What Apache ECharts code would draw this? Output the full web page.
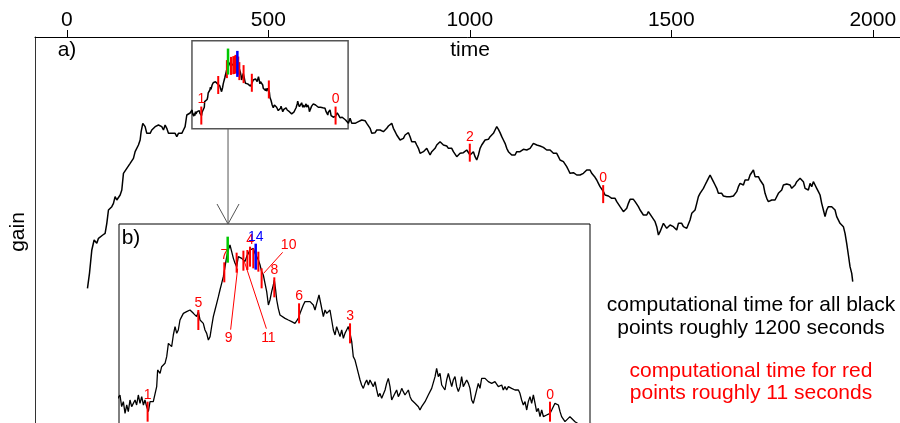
<!DOCTYPE html>
<html><head><meta charset="utf-8">
<script src="https://cdn.jsdelivr.net/npm/echarts@6/dist/echarts.min.js"></script>
<style>html,body{margin:0;padding:0;background:#fff}#c{width:900px;height:423px}</style>
</head><body><div id="c"></div>
<script>
// ---------- data (time, gain in arbitrary units) ----------
const timeTicks = [0, 500, 1000, 1500, 2000];

const earlySeg = [[51.2,1212],[56.2,1347],[59.5,1467],[62.0,1557],[67.7,1647],[74.4,1617],[78.5,1662],[82.6,1677],[89.2,1692],[95.0,1707],[99.2,1797],[103.3,1917],[107.4,1932],[111.6,1947],[115.7,1977],[119.8,2037],[124.0,2007],[128.1,2022],[132.3,2052],[136.4,2097],[140.5,2247],[144.7,2262],[148.8,2292],[152.9,2307],[157.1,2337],[161.2,2352],[165.3,2382],[169.5,2442],[173.6,2427],[177.7,2502],[181.9,2547],[184.4,2622],[188.5,2697],[191.8,2712],[194.3,2667],[198.4,2607],[202.6,2622],[206.7,2607],[210.8,2637],[215.0,2652],[219.1,2667],[223.2,2652],[227.4,2682],[231.5,2697],[235.6,2667],[239.8,2637],[243.9,2682],[248.0,2652],[252.2,2607],[256.3,2622],[260.5,2607],[264.6,2592],[268.7,2607],[272.9,2577],[277.0,2607],[281.1,2622],[285.3,2607],[289.4,2637],[293.5,2667],[297.7,2772],[301.8,2787],[305.9,2790]];

const zoomSeg = [[310.8,2817],[312.2,2782],[313.6,2797],[315.0,2762],[316.4,2787],[317.7,2767],[319.1,2802],[320.5,2782],[321.9,2777],[323.3,2802],[324.6,2787],[326.0,2817],[327.4,2792],[328.8,2812],[330.2,2787],[331.5,2802],[332.9,2782],[334.3,2767],[335.7,2797],[337.1,2792],[338.4,2797],[339.8,2792],[341.2,2842],[342.0,2892],[344.0,2882],[345.3,2902],[346.7,2907],[348.1,2912],[349.5,2932],[350.9,2972],[352.2,2967],[353.6,2962],[355.0,2997],[356.4,3022],[357.8,3002],[359.1,3012],[360.5,3042],[361.9,3052],[363.3,3062],[366.0,3067],[368.8,3072],[371.6,3062],[372.9,3057],[374.3,3052],[375.7,3067],[377.1,3042],[378.5,3047],[379.8,3032],[381.2,3012],[382.6,3002],[384.0,2982],[385.4,2992],[386.7,3022],[388.1,3052],[389.5,3072],[390.9,3092],[392.3,3112],[393.6,3132],[395.0,3152],[396.4,3172],[397.8,3202],[399.2,3232],[400.5,3252],[401.9,3267],[403.3,3247],[404.7,3227],[406.1,3212],[407.4,3202],[408.8,3232],[410.2,3237],[411.6,3227],[413.0,3232],[414.3,3217],[415.7,3232],[417.1,3242],[418.5,3252],[419.9,3247],[421.2,3257],[422.6,3242],[424.0,3232],[425.4,3222],[426.8,3207],[428.1,3187],[429.5,3177],[430.9,3152],[432.3,3127],[433.7,3087],[435.0,3102],[436.4,3127],[437.8,3147],[438.6,3162],[439.7,3132],[440.6,3102],[441.9,3077],[443.3,3057],[444.7,3052],[447.5,3047],[448.8,3052],[450.2,3042],[453.0,3037],[455.7,3032],[457.1,3027],[458.5,3047],[459.9,3062],[461.3,3067],[462.6,3087],[464.0,3097],[465.4,3102],[468.2,3097],[469.5,3102],[470.9,3087],[472.3,3072],[473.7,3092],[475.6,3117],[477.3,3087],[479.2,3052],[480.6,3072],[482.0,3062],[483.3,3067],[484.7,3072],[486.1,3042],[487.5,3012],[488.9,2997],[490.2,3022],[491.6,3007],[493.0,2992],[494.4,3012],[495.8,2987],[497.1,3002],[498.5,3012],[499.9,3022],[501.3,3002],[502.7,2977],[504.0,2932],[505.4,2922],[506.8,2902],[508.2,2882],[509.6,2862],[510.9,2847],[512.3,2837],[513.7,2852],[515.1,2862],[516.5,2847],[517.8,2862],[519.2,2857],[520.6,2842],[522.0,2857],[523.4,2832],[524.7,2812],[526.1,2822],[527.5,2807],[528.9,2812],[530.3,2832],[531.6,2852],[533.0,2867],[534.4,2842],[535.8,2802],[537.2,2797],[538.5,2822],[539.9,2832],[541.3,2812],[542.7,2822],[544.1,2837],[545.4,2827],[546.8,2817],[548.2,2822],[549.6,2832],[551.0,2812],[552.3,2802],[555.1,2792],[557.9,2782],[559.2,2772],[560.6,2782],[563.4,2797],[566.1,2817],[568.9,2837],[571.7,2872],[573.0,2897],[574.4,2872],[575.8,2882],[577.2,2847],[578.6,2842],[579.9,2832],[581.3,2862],[582.7,2882],[584.1,2862],[585.5,2842],[586.8,2862],[588.2,2872],[589.6,2842],[591.0,2827],[592.4,2842],[593.7,2872],[595.1,2842],[596.5,2837],[597.9,2862],[599.3,2852],[600.6,2837],[602.0,2802],[603.4,2792],[604.8,2812],[606.2,2817],[607.5,2852],[608.9,2837],[610.3,2867],[611.7,2872],[613.1,2867],[614.4,2872],[615.8,2857],[617.2,2862],[618.6,2852],[621.3,2857],[624.1,2842],[626.9,2847],[628.2,2832],[629.6,2842],[631.0,2832],[632.4,2842],[635.1,2837],[637.9,2832],[639.3,2837],[640.7,2832],[642.0,2822],[643.4,2802],[644.8,2787],[646.2,2797],[647.6,2772],[648.9,2797],[650.3,2812],[651.7,2792],[653.1,2817],[654.5,2792],[655.8,2767],[657.2,2777],[658.6,2752],[660.0,2772],[661.4,2752],[662.7,2747],[664.1,2757],[665.5,2752],[666.9,2762],[668.3,2772],[669.6,2767],[671.0,2792],[672.4,2797],[673.8,2787],[675.2,2767],[676.5,2752],[677.9,2747],[679.3,2737],[683.4,2752],[687.6,2737],[691.7,2727],[695.9,2717]];

const middleSeg = [[698.8,2697],[702.9,2742],[707.1,2697],[711.2,2682],[715.3,2697],[723.6,2712],[731.9,2727],[736.0,2712],[740.1,2721],[744.3,2697],[748.4,2682],[752.6,2652],[756.7,2607],[760.8,2622],[765.0,2613],[769.1,2637],[773.2,2652],[777.4,2637],[781.5,2643],[785.6,2622],[789.8,2607],[793.9,2652],[798.0,2673],[802.2,2682],[806.3,2697],[810.4,2652],[814.6,2622],[818.7,2592],[822.9,2577],[827.0,2547],[831.1,2532],[835.3,2562],[839.4,2592],[843.5,2607],[847.7,2613],[851.8,2577],[855.9,2532],[860.1,2517],[864.2,2532],[868.3,2502],[872.5,2472],[876.6,2427],[880.8,2412],[884.9,2442],[889.0,2427],[893.2,2472],[897.3,2457],[901.4,2412],[905.6,2442],[909.7,2427],[913.8,2472],[918.0,2502],[922.1,2517],[926.2,2532],[930.4,2517],[934.5,2502],[938.6,2487],[942.8,2493],[946.9,2472],[951.1,2457],[955.2,2472],[959.3,2442],[963.5,2427],[967.6,2397],[971.7,2382],[975.9,2427],[980.0,2442],[984.1,2433],[988.3,2442],[992.4,2457],[996.5,2442],[1000.7,2412],[1004.8,2427],[1008.9,2442],[1013.1,2397],[1017.2,2367],[1021.4,2412],[1025.5,2472],[1029.6,2502],[1033.8,2517],[1037.9,2547],[1042.0,2562],[1046.2,2553],[1050.3,2577],[1054.4,2592],[1058.6,2607],[1062.7,2637],[1066.9,2667],[1071.0,2643],[1075.1,2613],[1079.3,2577],[1083.4,2547],[1087.5,2517],[1091.7,2472],[1095.8,2442],[1099.9,2442],[1104.1,2412],[1108.2,2397],[1112.3,2412],[1116.5,2442],[1120.6,2457],[1124.7,2442],[1128.9,2457],[1133.0,2463],[1137.2,2472],[1141.3,2457],[1145.4,2472],[1149.6,2472],[1153.7,2487],[1157.8,2517],[1162.0,2532],[1166.1,2502],[1170.2,2487],[1174.4,2493],[1178.5,2487],[1182.6,2481],[1186.8,2472],[1190.9,2457],[1195.1,2442],[1199.2,2457],[1203.3,2442],[1207.5,2427],[1211.6,2442],[1215.7,2427],[1219.9,2397],[1224.0,2367],[1228.1,2367],[1232.3,2352],[1236.4,2367],[1240.5,2307],[1244.7,2277],[1248.8,2247],[1252.9,2262],[1257.1,2253],[1261.2,2262],[1265.4,2232],[1269.5,2247],[1273.6,2232],[1277.8,2217],[1281.9,2247],[1286.0,2262],[1290.2,2277],[1294.3,2262],[1298.4,2277],[1302.6,2247],[1306.7,2232],[1310.8,2211],[1315.0,2187],[1319.1,2157],[1323.2,2127]];

const lateSeg = [[1327.4,2112],[1331.6,2082],[1335.7,2052],[1339.9,2067],[1344.0,2043],[1348.1,2052],[1352.3,2022],[1356.4,2037],[1360.5,2022],[1364.7,1992],[1368.8,1977],[1372.9,1947],[1377.1,1932],[1381.2,1902],[1385.3,1917],[1389.5,1932],[1393.6,1977],[1397.8,2013],[1401.9,2022],[1406.0,2013],[1410.2,1992],[1414.3,1977],[1418.4,1947],[1422.6,1917],[1426.7,1902],[1430.8,1872],[1435.0,1887],[1439.1,1872],[1443.2,1902],[1447.4,1917],[1451.5,1857],[1455.6,1842],[1459.8,1812],[1463.9,1767],[1468.1,1692],[1472.2,1722],[1476.3,1737],[1480.5,1797],[1484.6,1812],[1488.7,1752],[1492.9,1767],[1497.0,1782],[1501.1,1797],[1505.3,1767],[1509.4,1782],[1513.5,1737],[1517.7,1797],[1521.8,1782],[1525.9,1797],[1530.1,1767],[1534.2,1767],[1538.4,1752],[1542.5,1767],[1546.6,1827],[1550.8,1887],[1554.9,1902],[1559.0,1917],[1563.2,1977],[1567.3,2037],[1571.4,2067],[1575.6,2082],[1579.7,2112],[1583.8,2142],[1588.0,2172],[1592.1,2202],[1596.3,2232],[1600.4,2202],[1604.5,2172],[1608.7,2142],[1612.8,2112],[1616.9,2067],[1621.1,2052],[1625.2,2067],[1629.3,2043],[1633.5,2052],[1637.6,2037],[1641.7,2052],[1645.9,2037],[1650.0,2031],[1654.2,2043],[1658.3,2052],[1662.4,2082],[1666.6,2127],[1670.7,2157],[1674.8,2172],[1679.0,2142],[1683.1,2187],[1687.2,2172],[1691.4,2187],[1695.5,2232],[1699.6,2217],[1703.8,2277],[1707.9,2217],[1712.0,2202],[1716.2,2217],[1720.3,2187],[1724.4,2202],[1728.6,2142],[1732.7,2067],[1736.9,2022],[1741.0,1992],[1745.1,1977],[1749.3,2007],[1753.4,1992],[1757.5,2007],[1761.7,2022],[1765.8,2067],[1769.9,2082],[1774.1,2097],[1778.2,2142],[1782.3,2127],[1786.5,2151],[1790.6,2133],[1794.8,2142],[1798.9,2112],[1803.0,2127],[1807.2,2142],[1811.3,2172],[1815.4,2157],[1819.6,2202],[1823.7,2202],[1827.8,2172],[1832.0,2112],[1836.1,2127],[1840.2,2097],[1844.4,2157],[1848.5,2127],[1852.6,2172],[1856.8,2142],[1860.9,2112],[1865.1,2082],[1869.2,2052],[1873.3,1977],[1877.5,1917],[1881.6,1857],[1885.7,1917],[1889.9,1947],[1894.0,1932],[1898.1,1947],[1902.3,1932],[1906.4,1917],[1910.5,1857],[1914.7,1842],[1918.8,1797],[1922.9,1812],[1927.1,1767],[1931.2,1707],[1935.3,1617],[1939.5,1512],[1943.6,1407],[1946.1,1422],[1947.8,1347],[1950.3,1272]];

// marks: [time, gain at tick centre]
const redMarks  = [[333.7,2767],[375.7,3042],[397.2,3185],[407.4,3214],[413.0,3220],[416.3,3222],[418.5,3232],[421.2,3227],[425.4,3217],[428.1,3167],[438.6,3140],[459.1,3062],[501.3,3002],[666.9,2767],[1000,2433],[1331,2060]];
const redLabels = ['1','5','7','9','11','','4','','','10','8','6','3','0','2','0'];
const greenMarks  = [[400.0,3253]];
const greenLabels = [''];
const blueMarks  = [[423.2,3232]];
const blueLabels = ['14'];

const zoomTimeRange = [310.5, 698];   // rectangle in panel a)
const zoomGainRange = [2649, 3441];
const insetTimeRange = [310, 700];
const insetGainRange = [2535, 3330];
const arrowTime = 400;

const noteBlack = ['computational time for all black', 'points roughly 1200 seconds'];
const noteRed = ['computational time for red', 'points roughly 11 seconds'];

// ---------- chart ----------
const allData = earlySeg.concat(zoomSeg, middleSeg, lateSeg);
const FONT = '"Liberation Sans", Arial, sans-serif';
const INSET = {left:119, top:224, width:471, height:265};

const leaderLayout = {
  '9':  {label:[-8, 75], from:[2,-8], to:[1,6]},
  '11': {label:[25, 77], from:[-2,-9], to:[1,1]},
  '10': {label:[27,-33], from:[-6,7], to:[2,-5]}
};

function markSeries(axisIdx, data, labels, color, len, lw, showLabel) {
  return {
    type:'custom', xAxisIndex:axisIdx, yAxisIndex:axisIdx, clip:true, z:4, silent:true,
    data: data,
    renderItem(params, api) {
      const c = api.coord([api.value(0), api.value(1)]);
      const ch = [{type:'line', shape:{x1:c[0], y1:c[1]-len/2, x2:c[0], y2:c[1]+len/2},
                   style:{stroke:color, lineWidth:lw}}];
      const lab = labels[params.dataIndex];
      if (lab && showLabel(lab)) {
        let lx = c[0], ly = c[1]-len/2-7;
        const lay = axisIdx === 1 ? leaderLayout[lab] : null;
        if (lay) {
          lx = c[0] + lay.label[0]; ly = c[1] + lay.label[1];
          ch.push({type:'line', shape:{x1:lx+lay.from[0], y1:ly+lay.from[1], x2:c[0]+lay.to[0], y2:c[1]+lay.to[1]},
                   style:{stroke:color, lineWidth:1}});
        }
        ch.push({type:'text', style:{text:lab, x:lx, y:ly, fill:color, font:'14px '+FONT, align:'center', verticalAlign:'middle'}});
      }
      return {type:'group', children:ch};
    }
  };
}

const chart = echarts.init(document.getElementById('c'), null, {renderer:'canvas'});
const mainShow = l => ['0','1','2'].includes(l);
const allShow = l => true;

chart.setOption({
  animation:false,
  backgroundColor:'#fff',
  grid:[
    {left:35, top:37, width:870, height:386, containLabel:false, outerBoundsMode:'none', show:false},
    {left:INSET.left, top:INSET.top, width:INSET.width, height:INSET.height, containLabel:false, outerBoundsMode:'none',
     show:true, borderColor:'#000', borderWidth:1, backgroundColor:'#fff', z:1}
  ],
  xAxis:[
    {type:'value', gridIndex:0, position:'top', min:-79, max:2080,
     axisLine:{show:true, onZero:false, lineStyle:{color:'#000', width:1}},
     axisTick:{show:true, inside:false, length:7, customValues:timeTicks, lineStyle:{color:'#000'}},
     axisLabel:{show:true, customValues:timeTicks, margin:6, color:'#000', fontSize:21, fontFamily:FONT,
                formatter: v => String(v)},
     splitLine:{show:false}},
    {type:'value', gridIndex:1, min:insetTimeRange[0], max:insetTimeRange[1], show:false}
  ],
  yAxis:[
    {type:'value', gridIndex:0, min:0, max:3474,
     axisLine:{show:true, onZero:false, lineStyle:{color:'#333', width:1}},
     axisTick:{show:false}, axisLabel:{show:false}, splitLine:{show:false}},
    {type:'value', gridIndex:1, min:insetGainRange[0], max:insetGainRange[1], show:false}
  ],
  graphic:[
    {type:'text', x:470, y:50, style:{text:'time', font:'21px '+FONT, fill:'#000', align:'center', verticalAlign:'middle'}},
    {type:'text', x:67, y:50, style:{text:'a)', font:'21px '+FONT, fill:'#000', align:'center', verticalAlign:'middle'}},
    {type:'text', x:131, y:238, z:10, style:{text:'b)', font:'21px '+FONT, fill:'#000', align:'center', verticalAlign:'middle'}},
    {type:'text', x:18, y:232, rotation:Math.PI/2, style:{text:'gain', font:'21px '+FONT, fill:'#000', align:'center', verticalAlign:'middle'}},
    {type:'text', x:751, y:305, style:{text:noteBlack[0], font:'21px '+FONT, fill:'#000', align:'center', verticalAlign:'middle'}},
    {type:'text', x:751, y:328, style:{text:noteBlack[1], font:'21px '+FONT, fill:'#000', align:'center', verticalAlign:'middle'}},
    {type:'text', x:751, y:371, style:{text:noteRed[0], font:'21px '+FONT, fill:'#ff0000', align:'center', verticalAlign:'middle'}},
    {type:'text', x:751, y:393, style:{text:noteRed[1], font:'21px '+FONT, fill:'#ff0000', align:'center', verticalAlign:'middle'}}
  ],
  series:[
    {type:'line', xAxisIndex:0, yAxisIndex:0, data:allData, showSymbol:false, symbol:'none', z:2,
     lineStyle:{color:'#000', width:1.5}, silent:true,
     markArea:{silent:true, itemStyle:{color:'rgba(0,0,0,0)', borderColor:'#555', borderWidth:1.5},
       data:[[{coord:[zoomTimeRange[0], zoomGainRange[0]]},{coord:[zoomTimeRange[1], zoomGainRange[1]]}]]}},
    {type:'custom', xAxisIndex:0, yAxisIndex:0, silent:true, z:1, data:[[arrowTime, zoomGainRange[0]]],
     renderItem(params, api) {
       const p = api.coord([api.value(0), api.value(1)]);
       const yTip = INSET.top;
       return {type:'group', children:[
         {type:'line', shape:{x1:p[0], y1:p[1], x2:p[0], y2:yTip}, style:{stroke:'#555', lineWidth:1}},
         {type:'polyline', shape:{points:[[p[0]-11, yTip-20],[p[0], yTip],[p[0]+11, yTip-20]]}, style:{stroke:'#555', lineWidth:1, fill:null}}
       ]};
     }},
    markSeries(0, redMarks, redLabels, '#ff0000', 18, 2, mainShow),
    markSeries(0, greenMarks, greenLabels, '#00c800', 26, 2.5, mainShow),
    markSeries(0, blueMarks, blueLabels, '#0000ff', 26, 2.5, mainShow),
    {type:'line', xAxisIndex:1, yAxisIndex:1, data:allData, showSymbol:false, symbol:'none', z:3, clip:true,
     lineStyle:{color:'#000', width:1.3}, silent:true},
    markSeries(1, redMarks, redLabels, '#ff0000', 20, 2, allShow),
    markSeries(1, greenMarks, greenLabels, '#00c800', 26, 2.5, allShow),
    markSeries(1, blueMarks, blueLabels, '#0000ff', 26, 2.5, allShow)
  ]
});
</script></body></html>
